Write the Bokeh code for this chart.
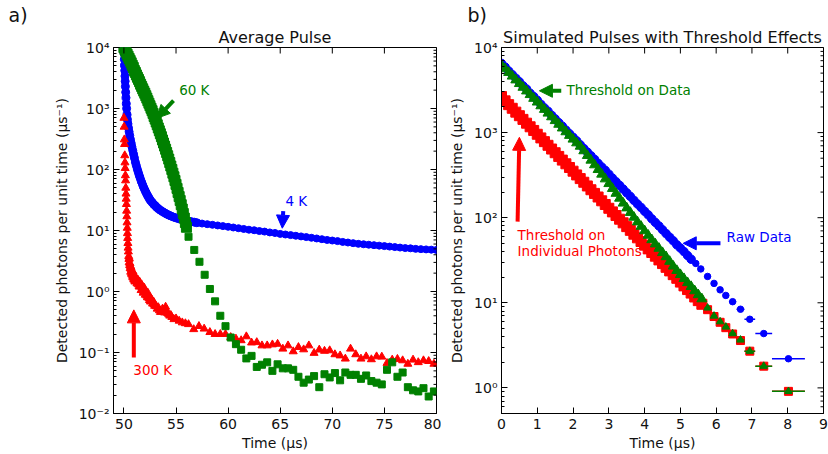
import math
from bokeh.plotting import figure
from bokeh.models import (FixedTicker, CustomJSTickFormatter, Label, Arrow, NormalHead, Range1d, Title)
from bokeh.layouts import row
from bokeh.embed import file_html
from bokeh.resources import INLINE

FONT = "DejaVu Sans"

# ---------------- panel a) Average Pulse ----------------
a_blue_t = [50.00, 50.02, 50.04, 50.06, 50.08, 50.10, 50.12, 50.14, 50.17, 50.20, 50.23, 50.26,
            50.30, 50.34, 50.39, 50.44, 50.50, 50.56, 50.63, 50.70, 50.77, 50.85, 50.93, 51.01,
            51.10, 51.19, 51.28, 51.37, 51.46, 51.55, 51.65, 51.75, 51.85, 51.95, 52.05, 52.15,
            52.25, 52.35, 52.45, 52.55, 52.70, 52.85, 53.00, 53.15, 53.30, 53.50, 53.70, 53.90,
            54.10, 54.30, 54.50, 54.75, 55.00, 55.25, 55.50, 55.75, 56.00, 56.25, 56.50, 56.75,
            57.00, 57.5, 58.0, 58.5, 59.0, 59.5, 60.0, 60.5, 61.0, 61.5, 62.0, 62.5, 63.0, 63.5,
            64.0, 64.5, 65.0, 65.5, 66.0, 66.5, 67.0, 67.5, 68.0, 68.5, 69.0, 69.5, 70.0, 70.5,
            71.0, 71.5, 72.0, 72.5, 73.0, 73.5, 74.0, 74.5, 75.0, 75.5, 76.0, 76.5, 77.0, 77.5,
            78.0, 78.5, 79.0, 79.5, 80.0]
a_blue_y = [10500, 8000, 6400, 5100, 4200, 3400, 2800, 2300, 1850, 1500, 1200, 1000,
            800, 660, 560, 480, 415, 360, 310, 270, 235, 205, 178, 155,
            132, 116, 102, 91, 81, 73, 65, 59, 53, 48.5, 44.5, 41,
            38, 35.5, 33, 31, 29, 27, 25.5, 24, 22.8, 21.5, 20.4, 19.5,
            18.6, 17.9, 17.3, 16.6, 16.1, 15.6, 15.2, 14.8, 14.5, 14.2, 13.9, 13.7,
            13.4, 13.0, 12.7, 12.4, 12.1, 11.8, 11.5, 11.2, 10.9, 10.6, 10.3, 10.1, 9.8, 9.6,
            9.3, 9.1, 8.8, 8.6, 8.4, 8.2, 8.0, 7.8, 7.6, 7.4, 7.2, 7.0, 6.85, 6.7,
            6.5, 6.35, 6.2, 6.05, 5.95, 5.85, 5.75, 5.65, 5.55, 5.45, 5.35, 5.25, 5.15, 5.1,
            5.0, 4.95, 4.9, 4.85, 4.8]
a_blue_ndense = 61

a_green_t = [50.0, 50.1, 50.2, 50.3, 50.4, 50.5, 50.6, 50.7, 50.8, 50.9,
             51.0, 51.1, 51.2, 51.3, 51.4, 51.5, 51.6, 51.7, 51.8, 51.9,
             52.0, 52.1, 52.2, 52.3, 52.4, 52.5, 52.6, 52.7, 52.8, 52.9,
             53.0, 53.1, 53.2, 53.3, 53.4, 53.5, 53.6, 53.7, 53.8, 53.9,
             54.0, 54.1, 54.2, 54.3, 54.4, 54.5, 54.6, 54.7, 54.8, 54.9,
             55.0, 55.1, 55.2, 55.3, 55.4, 55.5, 55.6, 55.7, 55.8, 55.9,
             56.0, 56.2,
             56.75, 57.25, 57.75, 58.25, 58.75, 59.25, 59.75, 60.25, 60.75, 61.25,
             61.75, 62.25, 62.75, 63.25, 63.75, 64.25, 64.75, 65.25, 65.75, 66.25,
             66.75, 67.25, 67.75, 68.25, 68.75, 69.25, 69.75, 70.25, 70.75, 71.25,
             71.75, 72.25, 72.75, 73.25, 73.75, 74.25, 74.75, 75.25, 75.75, 76.25,
             76.75, 77.25, 77.75, 78.25, 78.75, 79.25, 79.75]
a_green_y = [10000, 9200, 8500, 7800, 7200, 6600, 6100, 5600, 5100, 4700,
             4200, 3900, 3550, 3250, 3000, 2750, 2500, 2300, 2100, 1930,
             1780, 1620, 1480, 1340, 1220, 1110, 1010, 920, 830, 740,
             670, 600, 540, 480, 430, 385, 345, 305, 272, 242,
             215, 190, 168, 148, 130, 114, 100, 87, 76, 66,
             57, 49, 42, 36, 31, 26.5, 22.5, 19, 16, 13.5,
             11.3, 7.9,
             4.8, 3.07, 1.88, 1.1, 0.69, 0.40, 0.27, 0.176, 0.137, 0.111,
             0.080, 0.088, 0.058, 0.063, 0.069, 0.050, 0.064, 0.055, 0.055, 0.052,
             0.040, 0.032, 0.036, 0.041, 0.027, 0.044, 0.039, 0.046, 0.035, 0.047,
             0.043, 0.043, 0.037, 0.042, 0.034, 0.032, 0.030, 0.052, 0.069, 0.040,
             0.047, 0.027, 0.024, 0.023, 0.026, 0.019, 0.023]
a_green_ndense = 61

a_red_t = [50.00, 50.02, 50.04, 50.06, 50.08, 50.10, 50.12, 50.14, 50.16, 50.18,
           50.20, 50.22, 50.24, 50.26, 50.28, 50.30, 50.32, 50.34, 50.36, 50.38,
           50.40, 50.43, 50.46, 50.48, 50.50, 50.52, 50.55, 50.58, 50.60, 50.63,
           50.65, 50.68, 50.70, 50.73, 50.75, 50.78, 50.80, 50.83, 50.85, 50.88,
           50.90, 50.93, 50.95, 50.98, 51.00, 51.05, 51.10, 51.15, 51.20, 51.25,
           51.30, 51.35, 51.40, 51.45, 51.50, 51.55, 51.60, 51.65, 51.70, 51.75,
           51.80, 51.85, 51.90, 51.95, 52.00, 52.05, 52.10, 52.15, 52.20, 52.25,
           52.30, 52.35, 52.40, 52.45, 52.50, 52.55, 52.60, 52.65, 52.70, 52.75,
           52.80, 52.85, 52.90, 52.95, 53.00, 53.10, 53.20, 53.30, 53.40, 53.50,
           53.60, 53.70, 53.80, 53.90, 54.00, 54.10, 54.20, 54.30, 54.40, 54.50,
           54.60, 54.80, 55.00, 55.30, 55.60, 55.90, 56.20, 56.70, 57.20, 57.70,
           58.25, 58.75, 59.25, 59.75, 60.25, 60.75, 61.25, 61.75, 62.25, 62.75,
           63.25, 63.75, 64.25, 64.75, 65.25, 65.75, 66.25, 66.75, 67.25, 67.75,
           68.25, 68.75, 69.25, 69.75, 70.25, 70.75, 71.25, 71.75, 72.25, 72.75,
           73.25, 73.75, 74.25, 74.75, 75.25, 75.75, 76.25, 76.75, 77.25, 77.75,
           78.25, 78.75, 79.25, 79.75]
a_red_y = [700, 500, 310, 260, 170, 130, 105, 80, 66, 50,
           40, 33, 27, 21, 17, 13.5, 11, 9, 7.5, 6.2,
           5.2, 4.5, 3.8, 3.4, 3.0, 3.5, 2.7, 2.9, 2.4, 2.6,
           2.1, 2.5, 2.3, 2.0, 1.9, 2.2, 2.0, 1.8, 1.7, 2.1,
           1.8, 1.6, 1.9, 1.55, 1.75, 1.45, 1.5, 1.7, 1.6, 1.35,
           1.4, 1.55, 1.3, 1.2, 1.45, 1.25, 1.2, 1.05, 1.3, 1.15,
           1.1, 0.95, 1.0, 1.15, 1.05, 0.88, 0.9, 0.98, 0.85, 0.8,
           0.95, 0.82, 0.78, 0.72, 0.8, 0.68, 0.7, 0.75, 0.72, 0.63,
           0.65, 0.68, 0.62, 0.58, 0.6, 0.57, 0.52, 0.55, 0.49, 0.46,
           0.47, 0.52, 0.5, 0.45, 0.56, 0.48, 0.44, 0.42, 0.40, 0.41,
           0.38, 0.35, 0.36, 0.33, 0.31, 0.30, 0.29, 0.24, 0.27, 0.245,
           0.215, 0.20, 0.20, 0.20, 0.178, 0.168, 0.158, 0.183, 0.145, 0.147,
           0.130, 0.130, 0.135, 0.138, 0.115, 0.130, 0.104, 0.122, 0.112, 0.130,
           0.098, 0.111, 0.106, 0.108, 0.093, 0.089, 0.079, 0.115, 0.093, 0.079,
           0.086, 0.077, 0.086, 0.085, 0.067, 0.076, 0.078, 0.074, 0.065, 0.076,
           0.069, 0.074, 0.072, 0.065]

a_xrange = (49, 80)
a_yrange = (1e-2, 1e4)
a_xticks = [50, 55, 60, 65, 70, 75, 80]
a_yticks = [1e-2, 1e-1, 1e0, 1e1, 1e2, 1e3, 1e4]

# ---------------- panel b) Simulated pulses ----------------
b_blue_t = [0.0, 0.1, 0.2, 0.3, 0.4, 0.5, 0.6, 0.7, 0.8, 0.9,
            1.0, 1.1, 1.2, 1.3, 1.4, 1.5, 1.6, 1.7, 1.8, 1.9,
            2.0, 2.1, 2.2, 2.3, 2.4, 2.5, 2.6, 2.7, 2.8, 2.9,
            3.0, 3.1, 3.2, 3.3, 3.4, 3.5, 3.6, 3.7, 3.8, 3.9,
            4.0, 4.1, 4.2, 4.3, 4.4, 4.5, 4.6, 4.7, 4.8, 4.9,
            5.0, 5.1, 5.2, 5.3,
            5.43, 5.57, 5.76, 5.94, 6.11, 6.27, 6.46, 6.68, 6.94, 7.33, 8.02]
b_blue_y = [6500, 5900, 5300, 4800, 4350, 3950, 3550, 3250, 2900, 2650,
            2400, 2150, 1950, 1780, 1600, 1450, 1310, 1190, 1070, 970,
            880, 800, 720, 650, 590, 535, 485, 435, 395, 360,
            325, 292, 265, 240, 217, 196, 178, 160, 145, 132,
            119, 108, 97, 88, 80, 72, 65, 59, 53.5, 48,
            44, 40, 36, 32.5,
            29, 25, 20.4, 16.9, 14.2, 12.2, 10.3, 8.4, 6.4, 4.35, 2.2]
b_blue_xerr = [0.05] * 54 + [0.06, 0.08, 0.09, 0.08, 0.08, 0.085, 0.10, 0.11, 0.15, 0.235, 0.46]
b_blue_ndense = 54

b_green_t = [0.0, 0.1, 0.2, 0.3, 0.4, 0.5, 0.6, 0.7, 0.8, 0.9,
             1.0, 1.1, 1.2, 1.3, 1.4, 1.5, 1.6, 1.7, 1.8, 1.9,
             2.0, 2.1, 2.2, 2.3, 2.4, 2.5, 2.6, 2.7, 2.8, 2.9,
             3.0, 3.1, 3.2, 3.3, 3.4, 3.5, 3.6, 3.7, 3.8, 3.9,
             4.0, 4.1, 4.2, 4.3, 4.4, 4.5, 4.6, 4.7, 4.8, 4.9,
             5.0, 5.1, 5.2, 5.3, 5.4, 5.5, 5.6,
             5.76, 5.94, 6.11, 6.27, 6.46, 6.68, 6.94, 7.33, 8.02]
b_green_y = [6200, 5600, 5080, 4600, 4150, 3760, 3400, 3080, 2790, 2520,
             2280, 2060, 1870, 1690, 1530, 1380, 1250, 1130, 1020, 925,
             836, 756, 690, 610, 537, 473, 417, 367, 324, 285,
             251, 220, 193, 169, 148, 130, 115, 101, 89, 79,
             70, 62, 55, 49, 43.6, 38.8, 34.7, 30.6, 26.9, 23.9,
             21.4, 19.2, 17.2, 15.5, 13.8, 12.4, 11.1,
             8.7, 7.0, 6.0, 5.2, 4.35, 3.66, 2.7, 1.8, 0.91]
b_green_xerr = [0.05] * 57 + [0.09, 0.08, 0.08, 0.085, 0.10, 0.11, 0.15, 0.235, 0.46]
b_green_ndense = 57

b_red_t = [0.0, 0.1, 0.2, 0.3, 0.4, 0.5, 0.6, 0.7, 0.8, 0.9,
           1.0, 1.1, 1.2, 1.3, 1.4, 1.5, 1.6, 1.7, 1.8, 1.9,
           2.0, 2.1, 2.2, 2.3, 2.4, 2.5, 2.6, 2.7, 2.8, 2.9,
           3.0, 3.1, 3.2, 3.3, 3.4, 3.5, 3.6, 3.7, 3.8, 3.9,
           4.0, 4.1, 4.2, 4.3, 4.4, 4.5, 4.6, 4.7, 4.8, 4.9,
           5.0, 5.1, 5.2, 5.3, 5.4, 5.5, 5.6,
           5.76, 5.94, 6.11, 6.27, 6.46, 6.68, 6.94, 7.33, 8.02]
b_red_y = [2650, 2360, 2130, 1930, 1740, 1580, 1430, 1290, 1170, 1060,
           956, 866, 783, 709, 641, 580, 525, 475, 430, 389,
           352, 318, 288, 261, 236, 213, 193, 175, 158, 143,
           129, 117, 106, 96, 87, 78.5, 71, 64, 58, 52.5,
           47.6, 43, 39, 35.3, 31.9, 28.9, 26.1, 23.7, 21.4, 19.4,
           17.5, 15.8, 14.3, 13.0, 11.7, 10.6, 9.6,
           8.3, 6.9, 5.9, 5.1, 4.3, 3.6, 2.7, 1.8, 0.91]
b_red_xerr = [0.05] * 57 + [0.09, 0.08, 0.08, 0.085, 0.10, 0.11, 0.15, 0.235, 0.46]
b_red_ndense = 57

b_xrange = (0, 9)
b_yrange = (0.5, 1e4)
b_xticks = [0, 1, 2, 3, 4, 5, 6, 7, 8, 9]
b_yticks = [1e0, 1e1, 1e2, 1e3, 1e4]

# annotation anchors (data coordinates): text x, text y, arrow start, arrow end
a_notes = [("60 K", "green", 55.3, 2040, (54.76, 1350), (53.15, 690)),
           ("4 K", "blue", 65.5, 31, (65.29, 20.7), (65.2, 10.9)),
           ("300 K", "red", 50.9, 0.052, (50.95, 0.083), (50.95, 0.50))]
b_notes = [("Threshold on Data", "green", 1.82, 3200, (1.67, 3100), (1.06, 3100)),
           ("Raw Data", "blue", 6.29, 60, (6.12, 50), (5.08, 50))]
b_red_note = ["Threshold on", "Individual Photons"]

SUP = ("const s={'-':'\u207b','0':'\u2070','1':'\u00b9','2':'\u00b2','3':'\u00b3',"
       "'4':'\u2074','5':'\u2075','6':'\u2076','7':'\u2077','8':'\u2078','9':'\u2079'};"
       "const e=Math.round(Math.log10(tick));"
       "return '10'+String(e).split('').map(c=>s[c]).join('');")


def minor_log(lo_exp, hi_exp, extra=()):
    return list(extra) + [m * 10.0 ** e for e in range(lo_exp, hi_exp) for m in range(2, 10)]


def style_axis(ax):
    ax.major_tick_in = 6
    ax.major_tick_out = 0
    ax.minor_tick_in = 3
    ax.minor_tick_out = 0
    ax.axis_line_color = "black"
    ax.major_tick_line_color = "black"
    ax.minor_tick_line_color = "black"
    ax.major_label_text_font = FONT
    ax.major_label_text_font_size = "14px"
    ax.major_label_text_color = "#111111"
    ax.axis_label_text_font = FONT
    ax.axis_label_text_font_style = "normal"
    ax.axis_label_text_font_size = "14px"
    ax.axis_label_text_color = "#111111"


def mirror_ticks(p, xr, yr, xticks, yticks, yminor):
    # inward tick marks on the top and right edges (half of each dash is clipped by the frame)
    p.scatter([xr[1]] * len(yticks), yticks, marker="dash", size=12, line_color="black", line_width=1)
    p.scatter([xr[1]] * len(yminor), yminor, marker="dash", size=6, line_color="black", line_width=1)
    p.scatter(xticks, [yr[1]] * len(xticks), marker="dash", angle=math.pi / 2, size=12,
              line_color="black", line_width=1)


def make_fig(xr, yr, xticks, yticks, yminor, title, tag, tag_offset, fw, bl, br):
    p = figure(frame_width=fw, frame_height=366, x_range=Range1d(*xr), y_range=Range1d(*yr),
               y_axis_type="log", output_backend="svg", toolbar_location=None,
               title_location=None,
               min_border_left=bl, min_border_right=br, min_border_top=47, min_border_bottom=41)
    # first "above" item sits next to the frame, the second one above it
    p.add_layout(Title(text=title, align="center", text_font=FONT, text_font_size="16px",
                       text_font_style="normal", text_color="#111111", standoff=1), "above")
    p.add_layout(Title(text=tag, align="left", offset=tag_offset, text_font=FONT,
                       text_font_size="19px", text_font_style="normal", text_color="#111111",
                       standoff=0), "above")
    p.grid.visible = False
    p.outline_line_color = "black"
    p.background_fill_color = "white"
    p.border_fill_color = "white"

    xa = p.xaxis[0]
    xa.ticker = FixedTicker(ticks=xticks, minor_ticks=[])
    xa.axis_label = "Time (\u03bcs)"
    style_axis(xa)
    xa.major_label_standoff = 5
    xa.axis_label_standoff = 3

    ya = p.yaxis[0]
    ya.ticker = FixedTicker(ticks=yticks, minor_ticks=yminor)
    ya.formatter = CustomJSTickFormatter(code=SUP)
    ya.axis_label = "Detected photons per unit time (\u03bcs\u207b\u00b9)"
    style_axis(ya)
    ya.major_label_standoff = 4
    ya.axis_label_standoff = 6
    return p


def note(p, text, color, x, y, start, end):
    p.add_layout(Label(x=x, y=y, text=text, text_color=color, text_font=FONT,
                       text_font_size="13.5px", text_baseline="middle", text_align="left"))
    p.add_layout(Arrow(end=NormalHead(size=13, fill_color=color, line_color=color),
                       x_start=start[0], y_start=start[1], x_end=end[0], y_end=end[1],
                       line_color=color, line_width=4))


# ---- panel a ----
a_minor = minor_log(-2, 4)
pa = make_fig(a_xrange, a_yrange, a_xticks, a_yticks, a_minor, "Average Pulse", "a)", -105,
              323, 113, 5)
nb, ng = a_blue_ndense, a_green_ndense
pa.scatter(a_blue_t[:nb], a_blue_y[:nb], marker="circle", size=8, color="blue")
pa.scatter(a_blue_t[nb:], a_blue_y[nb:], marker="circle", size=7, color="blue")
pa.scatter(a_red_t, a_red_y, marker="triangle", size=8, color="red")
pa.scatter(a_green_t[:ng], a_green_y[:ng], marker="square", size=10, color="green")
pa.scatter(a_green_t[ng:], a_green_y[ng:], marker="square", size=7, color="green")
mirror_ticks(pa, a_xrange, a_yrange, a_xticks, a_yticks, a_minor)
for txt, col, tx, ty, st, en in a_notes:
    note(pa, txt, col, tx, ty, st, en)

# ---- panel b ----
b_minor = minor_log(0, 4, extra=(0.5, 0.6, 0.7, 0.8, 0.9))
pb = make_fig(b_xrange, b_yrange, b_xticks, b_yticks, b_minor,
              "Simulated Pulses with Threshold Effects", "b)", -34, 322, 60, 5)


def series(p, t, y, xerr, n, marker, size_dense, size_tail, color):
    p.segment([a - e for a, e in zip(t[n:], xerr[n:])], y[n:],
              [a + e for a, e in zip(t[n:], xerr[n:])], y[n:],
              line_color=color, line_width=1.5)
    p.scatter(t[:n], y[:n], marker=marker, size=size_dense, color=color)
    p.scatter(t[n:], y[n:], marker=marker, size=size_tail, color=color)


series(pb, b_blue_t, b_blue_y, b_blue_xerr, b_blue_ndense, "circle", 8.5, 6.5, "blue")
series(pb, b_red_t, b_red_y, b_red_xerr, b_red_ndense, "square", 10, 8, "red")
series(pb, b_green_t, b_green_y, b_green_xerr, b_green_ndense, "triangle", 10, 7.5, "green")
mirror_ticks(pb, b_xrange, b_yrange, b_xticks, b_yticks, b_minor)
for txt, col, tx, ty, st, en in b_notes:
    note(pb, txt, col, tx, ty, st, en)
pb.add_layout(Label(x=0.45, y=62, text=b_red_note[0], text_color="red", text_font=FONT,
                    text_font_size="13.5px", text_baseline="middle"))
pb.add_layout(Label(x=0.45, y=41, text=b_red_note[1], text_color="red", text_font=FONT,
                    text_font_size="13.5px", text_baseline="middle"))
pb.add_layout(Arrow(end=NormalHead(size=13, fill_color="red", line_color="red"),
                    x_start=0.45, y_start=90, x_end=0.5, y_end=880,
                    line_color="red", line_width=4))

layout = row(pa, pb)
open("out.html", "w").write(file_html(layout, INLINE))
